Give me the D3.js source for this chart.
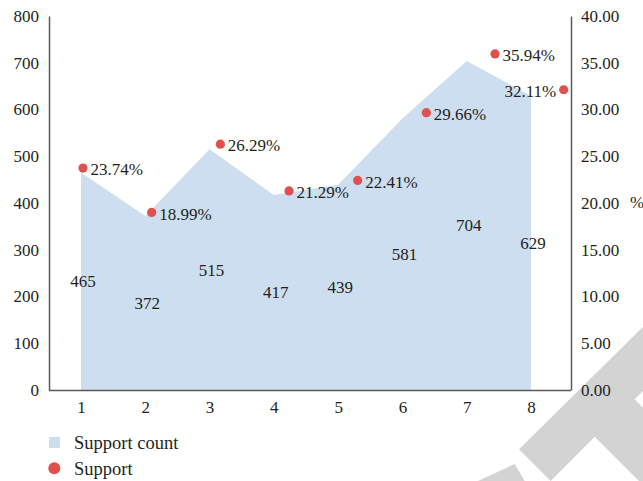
<!DOCTYPE html>
<html>
<head>
<meta charset="utf-8">
<script src="https://cdn.jsdelivr.net/npm/d3@7"></script>
<style>
  body { margin: 0; background: #fff; }
  text { font-family: "Liberation Serif", "DejaVu Serif", serif; fill: #231f20; }
</style>
</head>
<body>
<div id="chart"></div>
<script>
var svgWidth = 643;
var svgHeight = 481;

var margin = { top: 16, right: 72, bottom: 91, left: 49 };
var width = svgWidth - margin.left - margin.right;
var height = svgHeight - margin.top - margin.bottom;

// data
var categories = [1, 2, 3, 4, 5, 6, 7, 8];
var supportCount = [465, 372, 515, 417, 439, 581, 704, 629];
var supportPct = [23.74, 18.99, 26.29, 21.29, 22.41, 29.66, 35.94, 32.11];
var leftTicks = [0, 100, 200, 300, 400, 500, 600, 700, 800];
var rightTicks = [0, 5, 10, 15, 20, 25, 30, 35, 40];

var svg = d3.select("#chart")
  .append("svg")
  .attr("width", svgWidth)
  .attr("height", svgHeight);

// faint watermark in the lower right corner
svg.append("path")
  .attr("d", "M643,326.7L519,449.3L550.7,481L594.7,436.7L639,481L643,481L643,407.7L634.7,399.3L643,391Z")
  .attr("fill", "#d3d3d3");
svg.append("path")
  .attr("d", "M478,481L514.7,464L524.7,481Z")
  .attr("fill", "#d3d3d3");

var chartGroup = svg.append("g")
  .attr("transform", `translate(${margin.left}, ${margin.top})`);

// scales
var xScale = d3.scaleLinear().domain([1, 8]).range([32, 482]);
var xDot = d3.scaleLinear().domain([0, 7]).range([34, 514.7]);
var yLeft = d3.scaleLinear().domain([0, 800]).range([height, 0]);
var yRight = d3.scaleLinear().domain([0, 40]).range([height, 0]);

// area for support count
var area = d3.area()
  .x((d, i) => xScale(categories[i]))
  .y0(height)
  .y1(d => yLeft(d));

chartGroup.append("path")
  .datum(supportCount)
  .attr("d", area)
  .attr("fill", "#ccdeef");

// value labels sit halfway up each point
chartGroup.append("g").selectAll("text")
  .data(supportCount)
  .enter()
  .append("text")
  .attr("x", (d, i) => xScale(categories[i]) + 2)
  .attr("y", d => yLeft(d / 2))
  .attr("dy", "0.35em")
  .attr("text-anchor", "middle")
  .attr("font-size", "17px")
  .text(d => d);

// axes
var leftAxis = chartGroup.append("g")
  .call(d3.axisLeft(yLeft).tickValues(leftTicks).tickSize(0).tickPadding(10));
var rightAxis = chartGroup.append("g")
  .attr("transform", `translate(${width}, 0)`)
  .call(d3.axisRight(yRight).tickValues(rightTicks).tickSize(0).tickPadding(10)
    .tickFormat(d3.format(".2f")));
var bottomAxis = chartGroup.append("g")
  .attr("transform", `translate(0, ${height})`)
  .call(d3.axisBottom(xScale).tickValues(categories).tickSize(0).tickPadding(11)
    .tickFormat(d3.format("d")));

[leftAxis, rightAxis, bottomAxis].forEach(a => {
  a.select(".domain").attr("stroke", "#595959").attr("stroke-width", 1.5);
  a.selectAll("text")
    .attr("font-size", "17px")
    .attr("font-family", "'Liberation Serif', serif")
    .attr("fill", "#231f20");
});
bottomAxis.select(".domain").attr("d", `M0,0.5H${width}`);

chartGroup.append("text")
  .attr("x", width + 59)
  .attr("y", yRight(20))
  .attr("dy", "0.32em")
  .attr("font-size", "17px")
  .text("%");

// support dots with percent labels
chartGroup.append("g").selectAll("circle")
  .data(supportPct)
  .enter()
  .append("circle")
  .attr("cx", (d, i) => xDot(i))
  .attr("cy", d => yRight(d))
  .attr("r", 4.6)
  .attr("fill", "#e0504c");

chartGroup.append("g").selectAll("text")
  .data(supportPct)
  .enter()
  .append("text")
  .attr("x", (d, i) => i === supportPct.length - 1 ? xDot(i) - 7.5 : xDot(i) + 7.5)
  .attr("y", d => yRight(d))
  .attr("dy", "0.42em")
  .attr("text-anchor", (d, i) => i === supportPct.length - 1 ? "end" : "start")
  .attr("font-size", "17px")
  .text(d => d.toFixed(2) + "%");

// legend
var legend = svg.append("g").attr("transform", "translate(49, 437)");
legend.append("rect")
  .attr("width", 11).attr("height", 11)
  .attr("fill", "#ccdeef");
legend.append("text")
  .attr("x", 25).attr("y", 5.5).attr("dy", "0.35em")
  .attr("font-size", "18.5px")
  .text("Support count");
legend.append("circle")
  .attr("cx", 5.3).attr("cy", 31.3).attr("r", 6)
  .attr("fill", "#e0504c");
legend.append("text")
  .attr("x", 25).attr("y", 31.3).attr("dy", "0.35em")
  .attr("font-size", "18.5px")
  .text("Support");
</script>
</body>
</html>
